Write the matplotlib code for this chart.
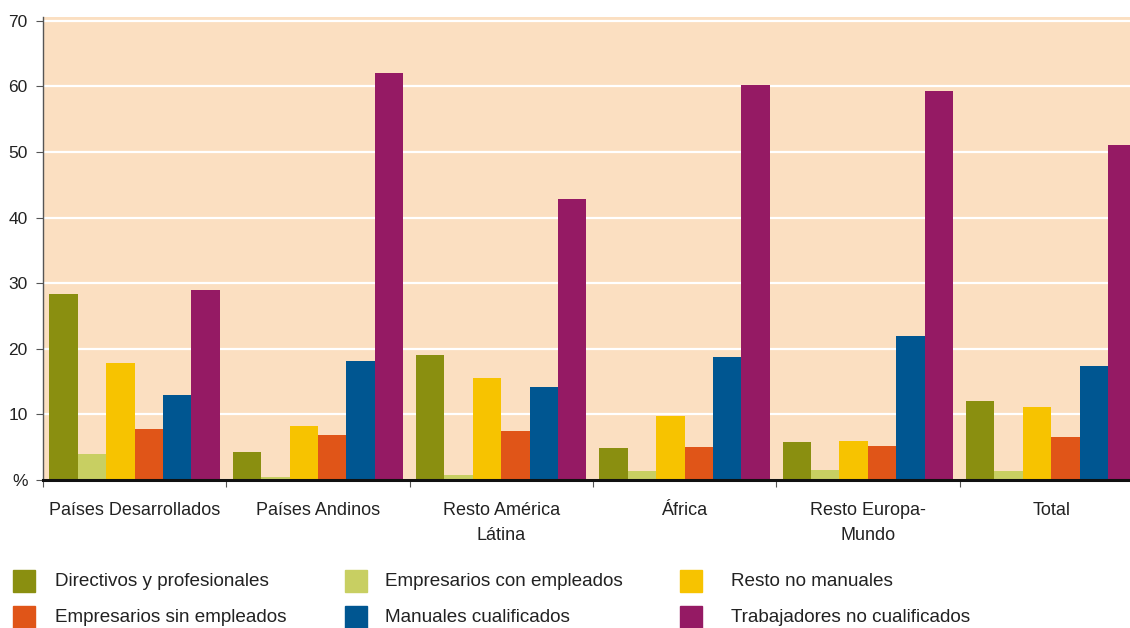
import numpy as np
import matplotlib.pyplot as plt
from matplotlib.patches import Rectangle

plt.rcParams['font.family'] = ['Liberation Sans', 'DejaVu Sans']

# regiones (grupos del eje x)
regiones = ['Países Desarrollados', 'Países Andinos', 'Resto América\nLátina',
            'África', 'Resto Europa-\nMundo', 'Total']

# categorías ocupacionales (%)
directivos = [28.3, 4.3, 19.0, 4.9, 5.8, 12.1]
emp_con = [3.9, 0.4, 0.8, 1.3, 1.6, 1.4]
resto_no_man = [17.9, 8.3, 15.6, 9.7, 6.0, 11.2]
emp_sin = [7.7, 6.8, 7.5, 5.1, 5.2, 6.5]
manuales = [13.0, 18.2, 14.1, 18.8, 21.9, 17.3]
trabajadores = [28.9, 62.1, 42.8, 60.2, 59.3, 51.0]

series = [
    ('Directivos y profesionales', directivos, '#8a8f10'),
    ('Empresarios con empleados', emp_con, '#c8cf62'),
    ('Resto no manuales', resto_no_man, '#f7c300'),
    ('Empresarios sin empleados', emp_sin, '#e05518'),
    ('Manuales cualificados', manuales, '#005691'),
    ('Trabajadores no cualificados', trabajadores, '#951a64'),
]

W, H = 1130, 628
fig = plt.figure(figsize=(W / 100, H / 100), dpi=100)
ax = fig.add_axes([43 / W, 1 - 480 / H, 1 - 43 / W, (480 - 17.4) / H])
ax.set_facecolor('#fbdfc1')

x = np.arange(len(regiones))
ancho = 0.155
inicio = 0.035
for i, (nombre, vals, color) in enumerate(series):
    ax.bar(x + inicio + i * ancho, vals, width=ancho, align='edge',
           color=color, zorder=3, linewidth=0)

ax.set_ylim(0, 70.5)
ax.set_xlim(0, (1130 - 43) / 183.3)
ax.set_yticks(range(0, 71, 10))
ax.set_yticklabels(['%'] + [str(v) for v in range(10, 71, 10)])
ax.yaxis.grid(True, color='white', linewidth=1.6, zorder=1)
ax.set_axisbelow(True)

ax.set_xticks(np.arange(0, 6))
ax.set_xticklabels([])
ax.set_xticks(x + 0.5, minor=True)
ax.set_xticklabels(regiones, minor=True, fontsize=13, color='#222222',
                   linespacing=1.6, va='top')
ax.tick_params(axis='x', which='minor', length=0, pad=16)
ax.tick_params(axis='x', which='major', length=5, color='#555555', width=0.8)
ax.tick_params(axis='y', length=5, color='#555555', width=0.8,
               labelsize=12.5, labelcolor='#222222', pad=6)

for s in ['top', 'right']:
    ax.spines[s].set_visible(False)
ax.spines['left'].set_color('#555555')
ax.spines['left'].set_linewidth(1.0)
ax.spines['bottom'].set_color('#111111')
ax.spines['bottom'].set_linewidth(2.2)
ax.spines['bottom'].set_zorder(4)

# leyenda en 3 columnas, 2 filas
col_x = [13, 345, 680]
txt_x = [55, 385, 731]
fila_y = [581, 617]
for k, (nombre, vals, color) in enumerate(series):
    fila = 0 if k in (0, 1, 2) else 1
    col = [0, 1, 2, 0, 1, 2][k]
    cy = fila_y[fila]
    fig.patches.append(Rectangle((col_x[col] / W, 1 - (cy + 11) / H), 22 / W, 22 / H,
                                 transform=fig.transFigure, color=color))
    fig.text(txt_x[col] / W, 1 - cy / H, nombre, fontsize=13.6, color='#222222',
             va='center', ha='left')

fig.savefig('out.png', dpi=100)
